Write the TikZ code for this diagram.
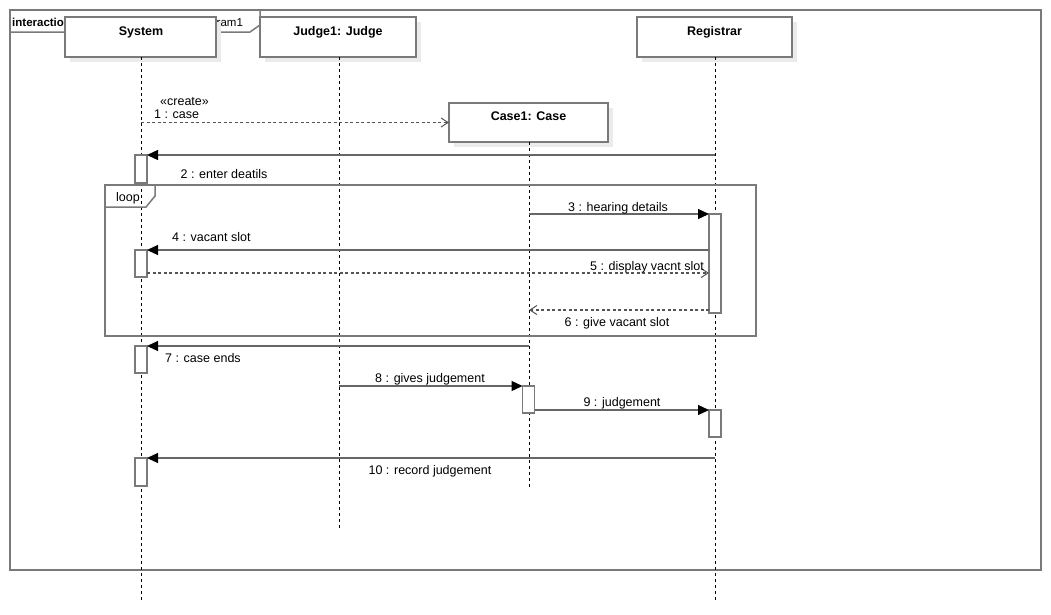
\documentclass[tikz,border=0pt]{standalone}
\usepackage{fontspec}
\setmainfont{Liberation Sans}
\usetikzlibrary{arrows.meta,shadows}
\definecolor{framegray}{HTML}{7A7A7A}
\definecolor{linegray}{HTML}{666666}
\definecolor{dashgray}{HTML}{555555}
\definecolor{shadegray}{HTML}{EBEBEB}
\tikzset{
  frameline/.style={draw=framegray, line width=1.5pt},
  headbox/.style={draw=framegray, line width=1.5pt, fill=white, rectangle, inner sep=0pt, outer sep=0pt,
    drop shadow={shadow xshift=5pt, shadow yshift=-5pt, fill=shadegray, opacity=1}},
  headtext/.style={font=\fontsize{12.5}{14}\selectfont\bfseries, anchor=base},
  lifeline/.style={draw=black, line width=0.8pt, dash pattern=on 3pt off 3pt},
  actbox/.style={draw=framegray, line width=1.3pt, fill=white, rectangle, inner sep=0pt, outer sep=0pt, minimum width=12pt},
  syncmsg/.style={draw=linegray, line width=1.3pt, -{Triangle[length=11pt,width=10pt,fill=black,color=black]}},
  replymsg/.style={draw=dashgray, line width=1.3pt, dash pattern=on 3pt off 2.5pt,
    -{Straight Barb[length=7pt,width=9pt,line width=1pt]}},
  msgtext/.style={font=\fontsize{12.5}{14}\selectfont, anchor=base, inner sep=0pt},
}
\begin{document}
\begin{tikzpicture}[x=1pt,y=-1pt]
\useasboundingbox (0,0) rectangle (1051,614);
\fill[white] (0,0) rectangle (1051,614);

% interaction frame
\draw[frameline] (10,10) rectangle (1041,570);
\draw[frameline] (10,32) -- (250,32) -- (260,25) -- (260,10);
\node[msgtext, anchor=base west, font=\fontsize{11.5}{13}\selectfont] (framelabel) at (12,26.5)
  {\textbf{interaction} JudgingCaseSequenceDiagram1};

% lifeline heads
\node[headbox, minimum width=151pt, minimum height=40pt] (sys) at (140.5,37) {};
\node[headbox, minimum width=156pt, minimum height=40pt] (jud) at (338,37) {};
\node[headbox, minimum width=155pt, minimum height=40pt] (reg) at (714.5,37) {};
\node[headbox, minimum width=159pt, minimum height=39pt] (cas) at (528.5,122.5) {};
\node[headtext] (sysT) at (141,35.5) {System};
\node[headtext] (judT) at (338,35.5) {Judge1: Judge};
\node[headtext] (regT) at (714.5,35.5) {Registrar};
\node[headtext] (casT) at (528.5,120.5) {Case1: Case};

% lifelines
\coordinate (sysEnd) at (141,602);
\coordinate (judEnd) at (339,528);
\coordinate (casEnd) at (529,488);
\coordinate (regEnd) at (715,602);
\draw[lifeline] (sysEnd |- sys.south) -- (sysEnd);
\draw[lifeline] (judEnd |- jud.south) -- (judEnd);
\draw[lifeline] (casEnd |- cas.south) -- (casEnd);
\draw[lifeline] (regEnd |- reg.south) -- (regEnd);

% loop fragment
\draw[frameline] (105,185) rectangle (756,336);
\draw[frameline] (105,207) -- (146,207) -- (155,196) -- (155,185);
\node[msgtext] (loopT) at (128,201) {loop};

% activations
\node[actbox, minimum height=28pt] (s1) at (141,169) {};
\node[actbox, minimum height=27pt] (s2) at (141,263.5) {};
\node[actbox, minimum height=27pt] (s3) at (141,359.5) {};
\node[actbox, minimum height=28pt] (s4) at (141,472) {};
\node[actbox, minimum height=99pt] (r1) at (715,263.5) {};
\node[actbox, minimum height=27pt] (r2) at (715,423.5) {};
\node[actbox, minimum height=27pt] (c1) at (528.5,399.5) {};

% message end points on lifelines
\coordinate (m1s) at (141,122.5);
\coordinate (m2s) at (715,155);
\coordinate (m3s) at (529,214);
\coordinate (m5s) at (147,273);
\coordinate (m6e) at (529,310);
\coordinate (m7s) at (529,346);
\coordinate (m8s) at (339,386);
\coordinate (m10s) at (715,458);

% messages
\draw[replymsg] (m1s) -- (cas.west);
\draw[syncmsg] (m2s) -- (s1.north east);
\draw[syncmsg] (m3s) -- (r1.north west);
\draw[syncmsg] (r1.west |- s2.north) -- (s2.north east);
\draw[replymsg] (m5s) -- (r1.west |- m5s);
\draw[replymsg] (r1.west |- m6e) -- (m6e);
\draw[syncmsg] (m7s) -- (s3.north east);
\draw[syncmsg] (m8s) -- (c1.north west);
\draw[syncmsg] (c1.east |- r2.north) -- (r2.north west);
\draw[syncmsg] (m10s) -- (s4.north east);

% message labels
\node[msgtext, anchor=base west] (l1a) at (160,105) {«create»};
\node[msgtext, anchor=base west] (l1b) at (154,118.5) {1 : case};
\node[msgtext] (l2) at (224,178.5) {2 : enter deatils};
\node[msgtext] (l3) at (618,211.5) {3 : hearing details};
\node[msgtext, anchor=base west] (l4) at (172,241.5) {4 : vacant slot};
\node[msgtext, anchor=base east] (l5) at (704,270.5) {5 : display vacnt slot};
\node[msgtext] (l6) at (617,326.5) {6 : give vacant slot};
\node[msgtext, anchor=base west] (l7) at (165,362.5) {7 : case ends};
\node[msgtext] (l8) at (430,382.5) {8 : gives judgement};
\node[msgtext] (l9) at (622,406.5) {9 : judgement};
\node[msgtext] (l10) at (430,474.5) {10 : record judgement};
\end{tikzpicture}
\end{document}
